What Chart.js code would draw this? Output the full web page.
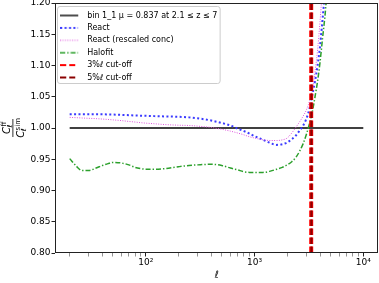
<!DOCTYPE html>
<html>
<head>
<meta charset="utf-8">
<script src="https://cdn.jsdelivr.net/npm/chart.js@4.4.1/dist/chart.umd.min.js"></script>
<style>
  html, body { margin: 0; padding: 0; background: #fff; }
</style>
</head>
<body>
<canvas id="ratioChart" width="379" height="283"></canvas>
<script>
// multipoles and C_l ratios
var ell = [20, 23, 26, 30, 35, 40, 45, 50, 60, 70,
           80, 90, 100, 120, 150, 200, 250, 300, 400, 500,
           600, 700, 800, 900, 1000, 1200, 1400, 1600, 1800, 2000,
           2200, 2400, 2600, 2800, 3000, 3200, 3400, 3600, 3800, 4000,
           4200, 4500, 5000, 6000, 8000, 10000];
var reactRatio = [1.022, 1.022, 1.022, 1.022, 1.022, 1.0219, 1.0217, 1.0215, 1.021, 1.0205,
                  1.020, 1.0197, 1.0195, 1.019, 1.0185, 1.018, 1.017, 1.0155, 1.012, 1.008,
                  1.004, 0.999, 0.995, 0.991, 0.987, 0.981, 0.976, 0.973, 0.974, 0.977,
                  0.982, 0.988, 0.996, 1.004, 1.015, 1.031, 1.053, 1.075, 1.10, 1.13,
                  1.17, 1.23, 1.35, 1.6, 2.2, 3.0];
var reactRescaledRatio = [1.017, 1.0165, 1.016, 1.0155, 1.015, 1.0143, 1.0137, 1.013, 1.0118, 1.0105,
                          1.0095, 1.0085, 1.0078, 1.0068, 1.0055, 1.0045, 1.004, 1.003, 1.0008, 0.998,
                          0.995, 0.992, 0.989, 0.986, 0.984, 0.981, 0.980, 0.980, 0.981, 0.984,
                          0.992, 1.001, 1.010, 1.019, 1.029, 1.043, 1.062, 1.09, 1.125, 1.17,
                          1.22, 1.30, 1.45, 1.8, 2.6, 3.4];
var halofitRatio = [0.951, 0.939, 0.932, 0.932, 0.936, 0.940, 0.943, 0.945, 0.944, 0.941,
                    0.937, 0.935, 0.934, 0.934, 0.935, 0.938, 0.940, 0.941, 0.942, 0.940,
                    0.936, 0.933, 0.930, 0.929, 0.929, 0.929, 0.931, 0.934, 0.937, 0.941,
                    0.946, 0.953, 0.963, 0.975, 0.990, 1.007, 1.026, 1.05, 1.075, 1.105,
                    1.14, 1.19, 1.30, 1.55, 2.1, 2.8];
var refEll = [20, 10000];
var refRatio = [1, 1];
var cut3Ell = [3320, 3320];
var cut5Ell = [3335, 3335];
var cutRatio = [0.8, 1.2];

var xMajorTicks = [100, 1000, 10000];
var xMajorLabels = ['10\u00b2', '10\u00b3', '10\u2074'];
var xMinorTicks = [20, 30, 40, 50, 60, 70, 80, 90,
                   200, 300, 400, 500, 600, 700, 800, 900,
                   2000, 3000, 4000, 5000, 6000, 7000, 8000, 9000];

var FONT = '"DejaVu Sans", sans-serif';
Chart.defaults.font.family = FONT;
Chart.defaults.color = '#000';

function toPoints(xs, ys) {
    return xs.map(function (x, i) { return { x: x, y: ys[i] }; });
}

// small picture of the line style, used as legend handle
function lineSample(color, width, dash) {
    var c = document.createElement('canvas');
    c.width = 23;
    c.height = 6;
    var g = c.getContext('2d');
    g.strokeStyle = color;
    g.lineWidth = width;
    g.setLineDash(dash);
    g.beginPath();
    g.moveTo(0, 3);
    g.lineTo(18, 3);
    g.stroke();
    return c;
}

function drawCell(ctx, sup, base) {
    ctx.font = 'italic 10px ' + FONT;
    var wC = ctx.measureText('C').width;
    ctx.font = '7px ' + FONT;
    var wSup = ctx.measureText(sup).width;
    ctx.font = 'italic 7px ' + FONT;
    var wSub = ctx.measureText('\u2113').width;
    var x0 = -(wC + Math.max(wSup, wSub)) / 2;
    ctx.font = 'italic 10px ' + FONT;
    ctx.fillText('C', x0, base);
    ctx.font = '7px ' + FONT;
    ctx.fillText(sup, x0 + wC + 0.3, base - 4);
    ctx.font = 'italic 7px ' + FONT;
    ctx.fillText('\u2113', x0 + wC - 0.5, base + 2);
}

var decorations = {
    id: 'decorations',
    afterUpdate: function (chart) {
        var lg = chart.legend, area = chart.chartArea;
        lg.left = area.left + 0.8;
        lg.right = lg.left + lg.width;
        lg.top = area.top + 4.1;
        lg.bottom = lg.top + lg.height;
    },
    beforeDraw: function (chart) {
        var ctx = chart.ctx;
        ctx.save();
        ctx.font = '8px ' + FONT;
        var w = 0;
        chart.legend.legendItems.forEach(function (it) {
            w = Math.max(w, ctx.measureText(it.text).width);
        });
        ctx.strokeStyle = '#cccccc';
        ctx.lineWidth = 1;
        ctx.beginPath();
        ctx.roundRect(57.5, 6.5, 87 + w + 3 - 57.5, 77, 2.5);
        ctx.stroke();
        ctx.restore();
    },
    afterDraw: function (chart) {
        var ctx = chart.ctx, a = chart.chartArea;
        ctx.save();
        ctx.strokeStyle = '#222';
        ctx.lineWidth = 1;
        ctx.strokeRect(a.left + 0.5, a.top + 0.5, a.right - a.left - 1, a.bottom - a.top - 1);
        // y label: C_l^ff / C_l^sim
        ctx.translate(12.5, 128);
        ctx.rotate(-Math.PI / 2);
        ctx.fillStyle = '#000';
        ctx.textBaseline = 'alphabetic';
        ctx.textAlign = 'left';
        drawCell(ctx, 'ff', -3);
        drawCell(ctx, 'sim', 11);
        ctx.fillRect(-9, 0, 18, 0.8);
        ctx.restore();
    }
};

var blueDash = [2, 2.4], pinkDash = [1, 1.4], greenDash = [5, 2, 1.4, 2], cutDash = [6.5, 2.5];

var datasets = [
    { label: 'bin 1_1 \u03bc = 0.837 at 2.1 \u2264 z \u2264 7', data: toPoints(refEll, refRatio),
      borderColor: '#000', borderWidth: 1.4, order: 5, pointStyle: lineSample('#000', 1.4, []) },
    { label: 'React', data: toPoints(ell, reactRatio),
      borderColor: '#3a3aff', borderWidth: 2, borderDash: blueDash, order: 4,
      cubicInterpolationMode: 'monotone', pointStyle: lineSample('#3a3aff', 2, blueDash) },
    { label: 'React (rescaled conc)', data: toPoints(ell, reactRescaledRatio),
      borderColor: '#dd55dd', borderWidth: 1, borderDash: pinkDash, order: 3,
      cubicInterpolationMode: 'monotone', pointStyle: lineSample('#dd55dd', 1, pinkDash) },
    { label: 'Halofit', data: toPoints(ell, halofitRatio),
      borderColor: '#2ca02c', borderWidth: 1.5, borderDash: greenDash, order: 2,
      cubicInterpolationMode: 'monotone', pointStyle: lineSample('#2ca02c', 1.5, greenDash) },
    { label: '3%\u2113 cut-off', data: toPoints(cut3Ell, cutRatio),
      borderColor: '#ff0000', borderWidth: 4, borderDash: cutDash, order: 1,
      pointStyle: lineSample('#ff0000', 2, [6, 3]) },
    { label: '5%\u2113 cut-off', data: toPoints(cut5Ell, cutRatio),
      borderColor: '#8b0000', borderWidth: 2, borderDash: cutDash, order: 0,
      pointStyle: lineSample('#8b0000', 2, [6, 3]) }
];

new Chart(document.getElementById('ratioChart'), {
    type: 'line',
    data: { datasets: datasets },
    options: {
        responsive: false,
        animation: false,
        layout: { padding: { top: 3, right: 1, bottom: 0, left: 0 } },
        elements: { point: { radius: 0, hoverRadius: 0 }, line: { tension: 0 } },
        scales: {
            x: {
                type: 'logarithmic',
                min: 14.66,
                max: 13650,
                afterBuildTicks: function (axis) {
                    axis.ticks = xMinorTicks.concat(xMajorTicks)
                        .sort(function (a, b) { return a - b; })
                        .map(function (v) { return { value: v }; });
                },
                afterFit: function (scale) {
                    scale.height = 30;
                    scale.paddingLeft = 0;
                    scale.paddingRight = 0;
                },
                ticks: {
                    autoSkip: false,
                    maxRotation: 0,
                    minRotation: 0,
                    padding: 1,
                    font: { size: 9 },
                    color: '#000',
                    callback: function (value) {
                        var i = xMajorTicks.indexOf(value);
                        return i >= 0 ? xMajorLabels[i] : '';
                    }
                },
                grid: {
                    drawOnChartArea: false,
                    tickLength: 3.5,
                    tickColor: function (c) {
                        return xMajorTicks.indexOf(c.tick && c.tick.value) >= 0 ? '#222' : '#666';
                    },
                    tickWidth: function (c) {
                        return xMajorTicks.indexOf(c.tick && c.tick.value) >= 0 ? 1 : 0.7;
                    }
                },
                border: { display: false },
                title: {
                    display: true,
                    text: '\u2113',
                    font: { size: 10, style: 'italic' },
                    color: '#000',
                    padding: { top: 0, bottom: 2 }
                }
            },
            y: {
                type: 'linear',
                min: 0.8,
                max: 1.2,
                afterFit: function (scale) {
                    scale.width = 55;
                    scale.paddingTop = 0;
                    scale.paddingBottom = 0;
                },
                ticks: {
                    stepSize: 0.05,
                    autoSkip: false,
                    padding: 1,
                    font: { size: 9 },
                    color: '#000',
                    callback: function (value) { return Number(value).toFixed(2); }
                },
                grid: { drawOnChartArea: false, tickLength: 3.5, tickColor: '#222' },
                border: { display: false }
            }
        },
        plugins: {
            tooltip: { enabled: false },
            legend: {
                position: 'chartArea',
                align: 'start',
                labels: {
                    usePointStyle: true,
                    pointStyleWidth: 23,
                    padding: 4.4,
                    font: { size: 8 },
                    color: '#000',
                    sort: function (a, b) { return a.datasetIndex - b.datasetIndex; }
                }
            }
        }
    },
    plugins: [decorations]
});
</script>
</body>
</html>
